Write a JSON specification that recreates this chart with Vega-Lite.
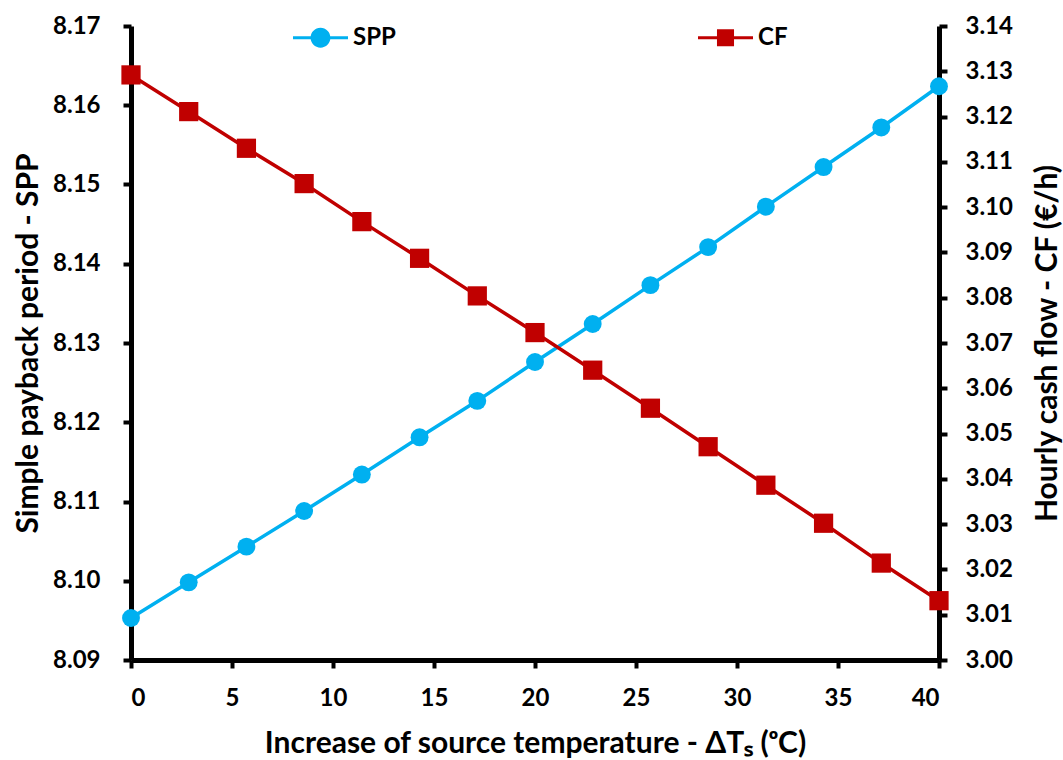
{
  "$schema": "https://vega.github.io/schema/vega-lite/v6.json",
  "autosize": {"type": "none"},
  "width": 808,
  "height": 634,
  "padding": {"left": 131, "top": 26, "right": 124, "bottom": 100},
  "background": "white",
  "config": {
    "view": {"stroke": null},
    "font": "Lato",
    "axis": {
      "grid": false,
      "domainColor": "black",
      "domainWidth": 5,
      "tickColor": "black",
      "tickWidth": 4,
      "tickSize": 8,
      "labelFont": "Lato",
      "labelFontWeight": "bold",
      "labelFontSize": 24,
      "labelColor": "black",
      "titleFont": "Lato",
      "titleFontWeight": "bold",
      "titleFontSize": 30,
      "titleColor": "black"
    }
  },
  "data": {
    "values": [
      {"dT": 0, "SPP": 8.0953, "CF": 3.1292},
      {"dT": 2.857, "SPP": 8.0998, "CF": 3.1211},
      {"dT": 5.714, "SPP": 8.1043, "CF": 3.1130},
      {"dT": 8.571, "SPP": 8.1088, "CF": 3.1052},
      {"dT": 11.429, "SPP": 8.1134, "CF": 3.0968},
      {"dT": 14.286, "SPP": 8.1181, "CF": 3.0887},
      {"dT": 17.143, "SPP": 8.1227, "CF": 3.0804},
      {"dT": 20, "SPP": 8.1276, "CF": 3.0723},
      {"dT": 22.857, "SPP": 8.1324, "CF": 3.0640},
      {"dT": 25.714, "SPP": 8.1373, "CF": 3.0556},
      {"dT": 28.571, "SPP": 8.1421, "CF": 3.0471},
      {"dT": 31.429, "SPP": 8.1472, "CF": 3.0386},
      {"dT": 34.286, "SPP": 8.1522, "CF": 3.0302},
      {"dT": 37.143, "SPP": 8.1572, "CF": 3.0214},
      {"dT": 40, "SPP": 8.1624, "CF": 3.0131}
    ]
  },
  "encoding": {
    "x": {
      "field": "dT",
      "type": "quantitative",
      "scale": {"domain": [0, 40], "nice": false},
      "axis": {
        "values": [0, 5, 10, 15, 20, 25, 30, 35, 40],
        "format": "d",
        "labelPadding": 18,
        "title": "Increase of source temperature - ΔTₛ (ᵒC)",
        "titleX": 404,
        "titleY": 83,
        "titleBaseline": "middle",
        "titleAlign": "center"
      }
    }
  },
  "layer": [
    {
      "mark": {
        "type": "line",
        "strokeWidth": 3.5,
        "point": {"shape": "circle", "filled": true, "size": 320, "opacity": 1}
      },
      "encoding": {
        "y": {
          "field": "SPP",
          "type": "quantitative",
          "scale": {"domain": [8.09, 8.17], "nice": false, "zero": false},
          "axis": {
            "orient": "left",
            "values": [8.09, 8.10, 8.11, 8.12, 8.13, 8.14, 8.15, 8.16, 8.17],
            "format": ".2f",
            "labelPadding": 23,
            "title": "Simple payback period - SPP",
            "titleAngle": -90,
            "titleX": -103,
            "titleY": 317,
            "titleAlign": "center",
            "titleBaseline": "middle"
          }
        },
        "color": {
          "datum": "SPP",
          "type": "nominal",
          "scale": {"domain": ["SPP", "CF"], "range": ["#00B0F0", "#C00000"]},
          "legend": {
            "orient": "none",
            "direction": "horizontal",
            "legendX": 162,
            "legendY": -16,
            "title": null,
            "padding": 0,
            "symbolSize": 3025,
            "symbolStrokeWidth": 0,
            "symbolOpacity": 1,
            "labelFont": "Lato",
            "labelFontWeight": "bold",
            "labelFontSize": 24,
            "labelColor": "black",
            "labelOffset": 5,
            "columnPadding": 302,
            "encode": {
              "symbols": {
                "update": {
                  "shape": [
                    {"test": "datum.value === 'SPP'", "value": "M-1,-0.055H1V0.055H-1Z M0,-0.36A0.36,0.36 0 1,1 0,0.36A0.36,0.36 0 1,1 0,-0.36Z"},
                    {"value": "M-1,-0.055H1V0.055H-1Z M-0.31,-0.31H0.31V0.31H-0.31Z"}
                  ],
                  "fillOpacity": {"value": 1}
                }
              }
            }
          }
        }
      }
    },
    {
      "mark": {
        "type": "line",
        "strokeWidth": 3.5,
        "point": {"shape": "square", "filled": true, "size": 370, "opacity": 1}
      },
      "encoding": {
        "y": {
          "field": "CF",
          "type": "quantitative",
          "scale": {"domain": [3.00, 3.14], "nice": false, "zero": false},
          "axis": {
            "orient": "right",
            "values": [3.00, 3.01, 3.02, 3.03, 3.04, 3.05, 3.06, 3.07, 3.08, 3.09, 3.10, 3.11, 3.12, 3.13, 3.14],
            "format": ".2f",
            "labelPadding": 18,
            "title": "Hourly cash flow - CF (€/h)",
            "titleAngle": -90,
            "titleX": 108,
            "titleY": 317,
            "titleAlign": "center",
            "titleBaseline": "middle"
          }
        },
        "color": {"datum": "CF", "type": "nominal"}
      }
    }
  ],
  "resolve": {"scale": {"y": "independent"}}
}
